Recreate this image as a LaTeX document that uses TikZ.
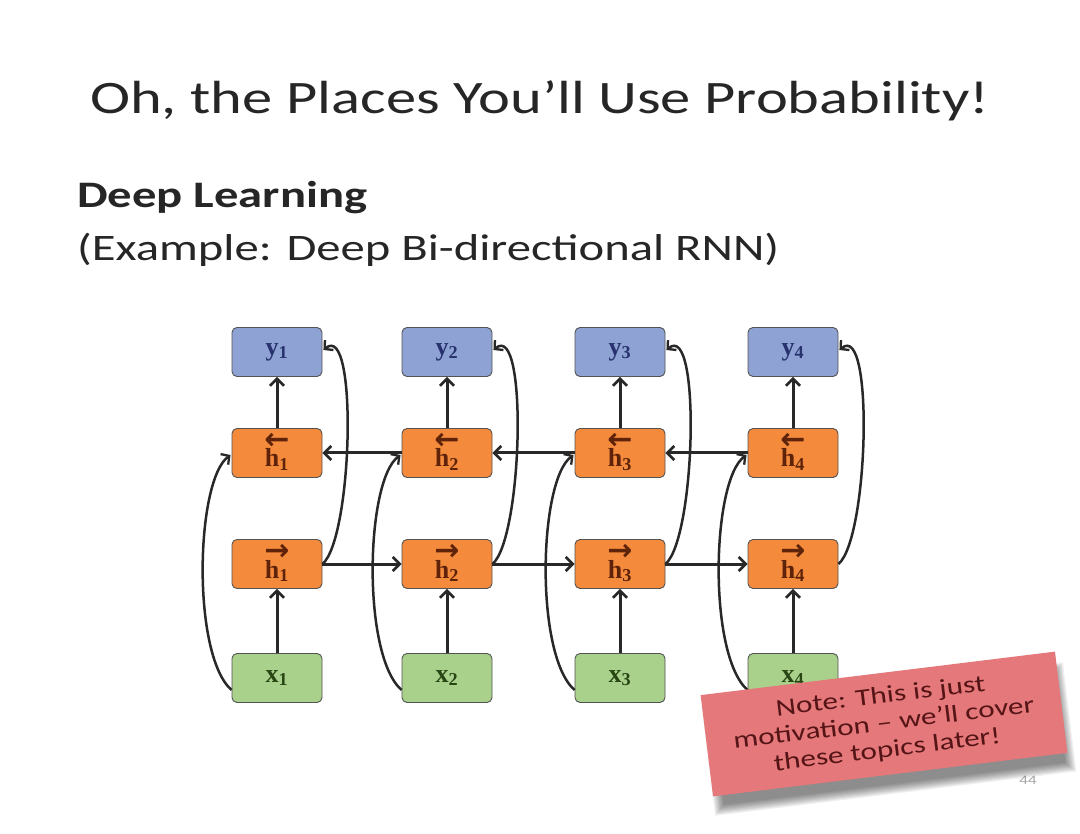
\documentclass[tikz,border=0pt]{standalone}
\usepackage{fontspec}
\setmainfont{Carlito}[FakeStretch=1.3]
\newfontfamily\boxfont{Liberation Serif}
\newfontfamily\arrfont{DejaVu Sans}
\usetikzlibrary{arrows.meta,calc}
\definecolor{ybox}{RGB}{142,163,212}
\definecolor{hbox}{RGB}{244,138,60}
\definecolor{xbox}{RGB}{170,209,140}
\definecolor{ytext}{RGB}{40,50,110}
\definecolor{htext}{RGB}{95,35,10}
\definecolor{xtext}{RGB}{40,70,20}
\definecolor{notered}{RGB}{228,120,122}
\definecolor{notetext}{RGB}{85,20,22}
\definecolor{edge}{RGB}{40,40,40}
\newcommand\plainlab[2]{\raisebox{-3pt}{\boxfont\bfseries #1\textsubscript{#2}}}
\newcommand\arrowlab[2]{\raisebox{-14pt}[0pt][0pt]{\begin{tabular}[b]{@{}c@{}}{\arrfont\bfseries\fontsize{30}{20}\selectfont #1}\\[-7pt]{\boxfont\bfseries h\textsubscript{#2}}\end{tabular}}}
\tikzset{
  rnnbox/.style={draw=edge!80, line width=0.9pt, rounded corners=5pt, minimum width=90pt, minimum height=49pt, inner sep=0pt, font=\fontsize{26}{20}\selectfont},
  ynode/.style={rnnbox, fill=ybox, text=ytext},
  hnode/.style={rnnbox, fill=hbox, text=htext},
  xnode/.style={rnnbox, fill=xbox, text=xtext},
  conn/.style={draw=edge, line width=3pt, -{Straight Barb[length=7pt,width=14pt,line width=2.6pt]}},
  curv/.style={draw=edge, line width=2.5pt, -{Straight Barb[length=6pt,width=13pt,line width=2.3pt]}},
  slide/.style={anchor=base west, inner sep=0pt, text=black!85},
  shade/.style={fill=black, opacity=0.055, rotate=7, inner sep=0pt},
}
\begin{document}
\begin{tikzpicture}[x=1pt,y=-1pt]
\useasboundingbox (0,0) rectangle (1080,834);
\fill[white] (0,0) rectangle (1080,834);
% titles
\node[slide, font=\fontsize{46.5}{56}\selectfont] (title) at (90,114) {Oh, the Places You’ll Use Probability!};
\node[slide, font=\fontsize{37.4}{44}\selectfont\bfseries] (sub1) at (77,208) {Deep Learning};
\node[slide, font=\fontsize{37.4}{44}\selectfont] (sub2) at (77,261) {(Example: Deep Bi-directional RNN)};
% nodes
\foreach \i/\cx in {1/277,2/447,3/620,4/793}{
  \node[ynode] (y\i) at (\cx,352) {\plainlab{y}{\i}};
  \node[hnode] (hb\i) at (\cx,453) {\arrowlab{←}{\i}};
  \node[hnode] (hf\i) at (\cx,564) {\arrowlab{→}{\i}};
  \node[xnode] (x\i) at (\cx,678) {\plainlab{x}{\i}};
}
% vertical connectors
\foreach \i in {1,2,3,4}{
  \draw[conn] (x\i.north) -- (hf\i.south);
  \draw[conn] (hb\i.north) -- (y\i.south);
}
% horizontal connectors
\foreach \i/\j in {1/2,2/3,3/4}{
  \draw[conn] (hf\i.east) -- (hf\j.west);
  \draw[conn] (hb\j.west) -- (hb\i.east);
}
% curved connectors
\foreach \i in {1,2,3,4}{
  \coordinate (xs\i) at ($(x\i.west)+(0,12)$);
  \coordinate (ye\i) at ($(y\i.east)+(1,-2)$);
  \coordinate (hw\i) at ($(hb\i.west)+(-1,2)$);
  \draw[curv] (xs\i) .. controls ++(-40,-35) and ++(-35,25) .. (hw\i);
  \draw[curv] (hf\i.east) .. controls ++(30,-25) and ++(35,-30) .. (ye\i);
}
% page number
\node[text=black!35, inner sep=0pt, font=\fontsize{13}{14}\selectfont] (pnum) at (1028,780) {44};
% note shadow (soft)
\foreach \k in {0,...,9}{
  \node[shade, minimum width=364pt-\k*2.2pt, minimum height=110pt-\k*2.2pt] (shadow\k) at (889,739) {};
}
% note
\node[fill=notered, rotate=7, minimum width=357pt, minimum height=102pt, inner sep=0pt, align=center, text=notetext,
  font=\fontsize{24}{27}\selectfont] (note) at (884,724)
  {Note: This is just\\ motivation -- we’ll cover\\ these topics later!};
\end{tikzpicture}
\end{document}
